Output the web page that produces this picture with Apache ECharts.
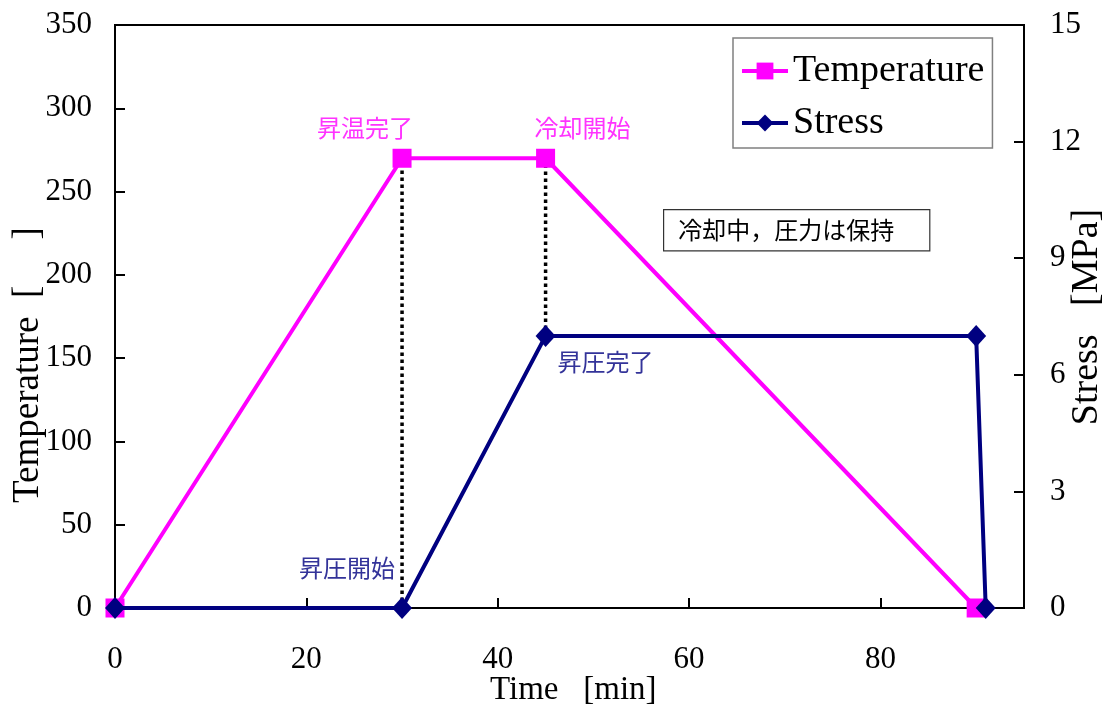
<!DOCTYPE html>
<html>
<head>
<meta charset="utf-8">
<script src="https://cdn.jsdelivr.net/npm/echarts@6/dist/echarts.min.js"></script>
<style>
  html, body { margin: 0; padding: 0; background: #fff; }
  #chart { width: 1109px; height: 716px; }
</style>
</head>
<body>
<div id="chart"></div>
<script>
// Heating / pressing schedule
const times = [0, 30, 45, 90];
const temperature = [0, 270, 270, 0];
const stressTimes = [0, 30, 45, 90, 91];
const stress = [0, 0, 7, 7, 0];

const tempAxis = { min: 0, max: 350, interval: 50 };
const stressAxis = { min: 0, max: 15, interval: 3 };
const timeAxis = { min: 0, max: 95, interval: 20 };

const serif = 'Liberation Serif';
const cjk = 'Noto Sans CJK JP';
const pink = '#ff00ff';
const navy = '#000080';

// point annotations keyed by data index
const tempNotes = { 1: '昇温完了', 2: '冷却開始' };
const stressNotes = { 1: '昇圧開始', 2: '昇圧完了' };

const tempData = times.map((t, i) => {
  const item = { value: [t, temperature[i]] };
  if (tempNotes[i]) {
    item.label = {
      show: true, formatter: tempNotes[i], position: 'top',
      offset: [i === 1 ? -37 : 37, -4],
      fontFamily: cjk, fontSize: 24, color: '#ff33ff'
    };
  }
  return item;
});
const stressData = stressTimes.map((t, i) => {
  const item = { value: [t, stress[i]] };
  if (stressNotes[i]) {
    item.label = {
      show: true, formatter: stressNotes[i],
      position: i === 1 ? 'left' : 'right',
      offset: i === 1 ? [8, -40] : [-3, 26],
      fontFamily: cjk, fontSize: 24, color: '#333399'
    };
  }
  return item;
});

// vertical dotted guides at the heating end and the cooling start
const stressOnTempScale = v => v * tempAxis.max / stressAxis.max;
const guideA = [[times[1], 0], [times[1], temperature[1]]];
const guideB = [[times[2], stressOnTempScale(stress[2])], [times[2], temperature[2]]];
const guideStyle = { color: '#000', width: 3.5, type: [3.5, 3.5], cap: 'butt' };

const chart = echarts.init(document.getElementById('chart'));
chart.setOption({
  animation: false,
  backgroundColor: '#fff',
  grid: {
    left: 115, right: 85, top: 25, bottom: 108,
    show: true, borderColor: '#000', borderWidth: 2, backgroundColor: 'transparent'
  },
  legend: {
    data: ['Temperature', 'Stress'],
    orient: 'vertical',
    left: 733, top: 38,
    width: 259,
    padding: [14, 8, 6, 7],
    borderColor: '#808080', borderWidth: 1.5,
    itemWidth: 46, itemHeight: 21, itemGap: 14,
    lineStyle: { width: 4 },
    textStyle: { fontFamily: serif, fontSize: 38, color: '#000' }
  },
  xAxis: {
    type: 'value',
    min: timeAxis.min, max: timeAxis.max, interval: timeAxis.interval,
    axisLine: { lineStyle: { color: '#000', width: 2 } },
    axisTick: { inside: true, length: 10, lineStyle: { color: '#000', width: 2 } },
    axisLabel: { showMaxLabel: false, margin: 36, fontFamily: serif, fontSize: 31, color: '#000' },
    splitLine: { show: false }
  },
  yAxis: [
    {
      type: 'value', position: 'left',
      min: tempAxis.min, max: tempAxis.max, interval: tempAxis.interval,
      axisLine: { show: true, lineStyle: { color: '#000', width: 2 } },
      axisTick: { show: true, inside: true, length: 10, lineStyle: { color: '#000', width: 2 } },
      axisLabel: { margin: 23, fontFamily: serif, fontSize: 31, color: '#000' },
      splitLine: { show: false }
    },
    {
      type: 'value', position: 'right',
      min: stressAxis.min, max: stressAxis.max, interval: stressAxis.interval,
      axisLine: { show: true, lineStyle: { color: '#000', width: 2 } },
      axisTick: { show: true, inside: true, length: 10, lineStyle: { color: '#000', width: 2 } },
      axisLabel: { margin: 26, fontFamily: serif, fontSize: 31, color: '#000' },
      splitLine: { show: false }
    }
  ],
  graphic: [
    {
      type: 'text', left: 490, top: 674,
      style: { text: 'Time   [min]', font: '33px "Liberation Serif"', fill: '#000' }
    },
    {
      type: 'text', x: 28, y: 365, rotation: Math.PI / 2,
      style: {
        text: 'Temperature  [     ]', font: '37px "Liberation Serif"', fill: '#000',
        align: 'center', verticalAlign: 'middle'
      }
    },
    {
      type: 'text', x: 1087, y: 317, rotation: Math.PI / 2,
      style: {
        text: 'Stress   [MPa]', font: '38px "Liberation Serif"', fill: '#000',
        align: 'center', verticalAlign: 'middle'
      }
    },
    {
      type: 'text', left: 663, top: 209,
      style: {
        text: '冷却中，圧力は保持', font: '24px "Noto Sans CJK JP"', fill: '#000',
        backgroundColor: '#fff', borderColor: '#333', borderWidth: 1.2,
        padding: [8, 35, 8, 14]
      }
    }
  ],
  series: [
    {
      name: 'guideA', type: 'line', yAxisIndex: 0, data: guideA,
      symbol: 'none', lineStyle: guideStyle, z: 1, silent: true
    },
    {
      name: 'guideB', type: 'line', yAxisIndex: 0, data: guideB,
      symbol: 'none', lineStyle: guideStyle, z: 1, silent: true
    },
    {
      name: 'Temperature', type: 'line', yAxisIndex: 0, data: tempData,
      symbol: 'rect', symbolSize: 19,
      itemStyle: { color: pink },
      lineStyle: { color: pink, width: 4 }, z: 3
    },
    {
      name: 'Stress', type: 'line', yAxisIndex: 1, data: stressData,
      symbol: 'diamond', symbolSize: [20, 22],
      itemStyle: { color: navy },
      lineStyle: { color: navy, width: 4 }, z: 4
    }
  ]
});
</script>
</body>
</html>
